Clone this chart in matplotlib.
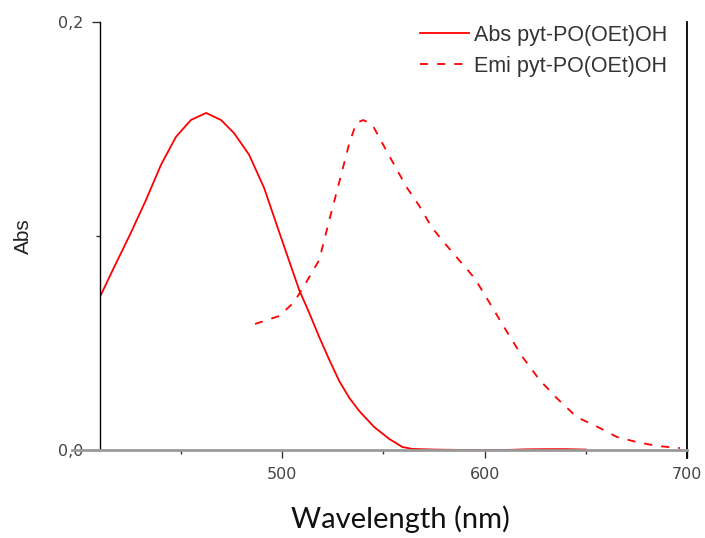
"""Absorption / emission spectra of pyt-PO(OEt)OH."""

import matplotlib

matplotlib.use("Agg")
import matplotlib.pyplot as plt
from matplotlib.ticker import MultipleLocator, FixedLocator

# absorption spectrum (nm, abs)
abs_nm = [410.4, 416.3, 425.2, 432.7, 440.1, 447.5, 454.9, 462.4, 469.8, 476.2,
          483.7, 491.1, 498.5, 505.0, 508.4, 513.4, 518.3, 523.3, 528.2, 533.2,
          538.1, 545.5, 553.0, 559.4, 564.4, 575.0, 590.0, 610.0, 620.0, 630.0,
          640.0, 650.0]
abs_val = [0.0724, 0.0841, 0.1014, 0.1168, 0.1332, 0.1463, 0.1542, 0.1575, 0.1542, 0.1481,
           0.1379, 0.1224, 0.1019, 0.0841, 0.0748, 0.0640, 0.0528, 0.0421, 0.0322, 0.0243,
           0.0182, 0.0107, 0.0051, 0.0014, 0.0005, 0.0002, 0.0, 0.0, 0.0003, 0.0004,
           0.0004, 0.0002]

# emission spectrum (nm, normalised)
emi_nm = [486.6, 498.5, 505.9, 513.4, 518.3, 523.3, 528.2, 533.2, 536.6, 540.1,
          544.6, 550.5, 555.4, 561.4, 567.8, 573.8, 580.2, 588.6, 595.0, 602.5,
          609.9, 618.8, 627.2, 635.6, 645.5, 656.9, 665.3, 675.2, 685.1, 696.5]
emi_val = [0.0589, 0.0626, 0.0691, 0.0808, 0.0888, 0.1075, 0.1252, 0.1434, 0.1528, 0.1542,
           0.1519, 0.1416, 0.1332, 0.1229, 0.1140, 0.1042, 0.0967, 0.0874, 0.0804, 0.0687,
           0.0570, 0.0434, 0.0327, 0.0243, 0.0154, 0.0103, 0.0061, 0.0037, 0.0019, 0.0009]

labels = ["Abs pyt-PO(OEt)OH", "Emi pyt-PO(OEt)OH"]

fig = plt.figure(figsize=(7.05, 5.38), dpi=100)
ax = fig.add_axes([100 / 705, 88 / 538, 587 / 705, 428 / 538])

ax.plot(abs_nm, abs_val, color="#ff0000", lw=1.3, label=labels[0])
ax.plot(emi_nm, emi_val, color="#ff0000", lw=1.3, dashes=(4.5, 5), label=labels[1])

ax.set_xlim(410, 700)
ax.set_ylim(0, 0.2)

ax.spines["top"].set_visible(False)
ax.spines["left"].set_color("black")
ax.spines["left"].set_linewidth(1.0)
ax.spines["right"].set_color("black")
ax.spines["right"].set_linewidth(1.3)
ax.spines["right"].set_bounds(-0.0038, 0.2)
ax.spines["bottom"].set_color("#9a9a9a")
ax.spines["bottom"].set_linewidth(2.0)
ax.spines["bottom"].set_bounds(396, 700)

ax.xaxis.set_major_locator(FixedLocator([500, 600, 700]))
ax.xaxis.set_minor_locator(FixedLocator([450, 550, 650]))
ax.yaxis.set_major_locator(FixedLocator([0.0, 0.2]))
ax.yaxis.set_minor_locator(MultipleLocator(0.1))
ax.set_xticklabels(["500", "600", "700"])
ax.set_yticklabels(["0,0", "0,2"])

ax.tick_params(which="major", direction="out", length=6, width=1.0, color="#333333",
               labelsize=11.5, labelcolor="#444444", pad=6, labelfontfamily="DejaVu Sans")
ax.tick_params(which="minor", direction="out", length=3, width=1.0, color="#333333")

ax.set_xlabel("Wavelength (nm)", family="Lato", fontsize=21, color="#111111", labelpad=20)
ax.xaxis.set_label_coords(0.511, -0.13)
ax.set_ylabel("Abs", family="Liberation Sans", fontsize=15, color="#222222", labelpad=18)

leg = ax.legend(loc="upper right", bbox_to_anchor=(667 / 705, 1 - 25 / 538),
                bbox_transform=fig.transFigure, frameon=False, borderpad=0,
                borderaxespad=0, handlelength=2.3, handletextpad=0.2, labelspacing=0.45,
                prop={"family": "Liberation Sans", "size": 15.5})
for t in leg.get_texts():
    t.set_color("#333333")

fig.savefig("out.png", dpi=100)
